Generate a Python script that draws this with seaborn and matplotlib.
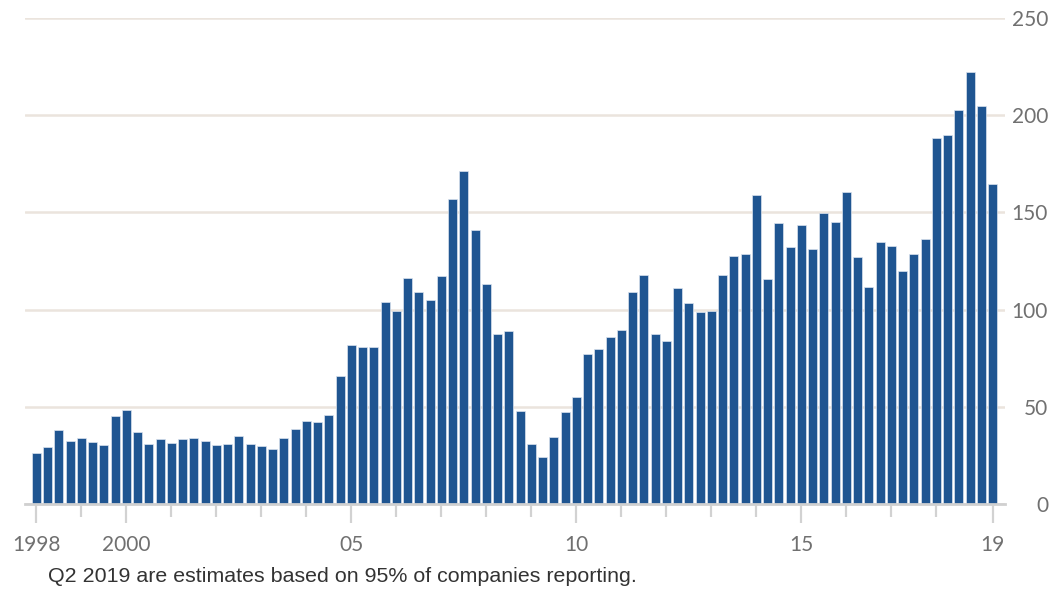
import matplotlib
matplotlib.use("Agg")
import matplotlib.pyplot as plt
import seaborn as sns
import pandas as pd

# ---- data ----
years = list(range(1998, 2020))
quarters = [f"{y} Q{q}" for y in years for q in range(1, 5)][:86]
values = [
    26.4, 29.1, 38.0, 32.4, 33.8, 31.7, 30.3, 45.2,
    48.3, 37.2, 30.7, 33.2, 31.2, 33.2, 34.1, 32.5,
    30.3, 30.7, 34.9, 30.7, 29.8, 28.1, 34.1, 38.4,
    42.7, 42.1, 45.6, 65.9, 81.7, 80.8, 80.8, 103.8,
    99.5, 116.3, 109.3, 104.7, 117.2, 157.1, 171.3, 141.2,
    113.4, 87.5, 89.2, 47.9, 30.7, 24.2, 34.6, 47.4,
    55.0, 77.1, 79.5, 85.8, 89.4, 108.9, 118.0, 87.2,
    83.9, 111.2, 103.3, 98.7, 99.5, 117.6, 127.7, 128.8,
    158.8, 115.7, 144.6, 132.2, 143.7, 131.0, 149.9, 145.2,
    160.6, 126.9, 111.7, 134.8, 132.6, 119.7, 128.6, 136.3,
    188.2, 189.8, 202.8, 222.0, 204.7, 164.8,
]
major_labels = ["1998", "2000", "05", "10", "15", "19"]
major_quarters = ["1998 Q1", "2000 Q1", "2005 Q1", "2010 Q1", "2015 Q1", "2019 Q2"]
yticks = [0, 50, 100, 150, 200, 250]
footnote = "Q2 2019 are estimates based on 95% of companies reporting."

df = pd.DataFrame({"quarter": quarters, "value": values})

sns.set_style("white")
plt.rcParams["font.family"] = ["Lato", "DejaVu Sans"]

fig = plt.figure(figsize=(10.55, 5.89), dpi=100)
ax = fig.add_axes([25 / 1055, 85 / 589, 980 / 1055, 486 / 589])

sns.barplot(data=df, x="quarter", y="value", color="#1f5591", saturation=1,
            width=0.8, edgecolor="#dbe3ee", linewidth=0.5, ax=ax, zorder=3)

ax.set_ylim(0, 250)
ax.set_xlim(-1.02, 86.1)
ax.set_xlabel("")
ax.set_ylabel("")

# grid
ax.set_yticks(yticks)
ax.yaxis.tick_right()
ax.grid(axis="y", color="#ebe4dd", linewidth=1.8, zorder=0)
ax.grid(axis="x", visible=False)
ax.tick_params(axis="y", length=0, pad=31, labelsize=15, labelcolor="#707070")
for lab in ax.get_yticklabels():
    lab.set_horizontalalignment("right")

# x ticks
pos = {q: i for i, q in enumerate(quarters)}
major_pos = [pos[q] for q in major_quarters]
minor_pos = [pos[f"{y} Q1"] for y in years[:-1] if pos[f"{y} Q1"] not in major_pos]
ax.set_xticks(major_pos)
ax.set_xticklabels(major_labels)
ax.set_xticks(minor_pos, minor=True)
ax.tick_params(axis="x", which="both", bottom=True, direction="out")
ax.tick_params(axis="x", which="major", length=14, width=1.6, color="#d2d2d2",
               labelsize=15, labelcolor="#707070", pad=8)
ax.tick_params(axis="x", which="minor", length=9, width=1.6, color="#d2d2d2")

for s in ["top", "left", "right"]:
    ax.spines[s].set_visible(False)
ax.spines["bottom"].set_color("#d0d0d0")
ax.spines["bottom"].set_linewidth(2)
ax.spines["bottom"].set_zorder(4)

fig.text(48 / 1055, 1 - 576 / 589, footnote, fontsize=15.4, color="#333333",
         family=["Liberation Sans", "DejaVu Sans"], va="center", ha="left")

fig.savefig("out.png", dpi=100)
